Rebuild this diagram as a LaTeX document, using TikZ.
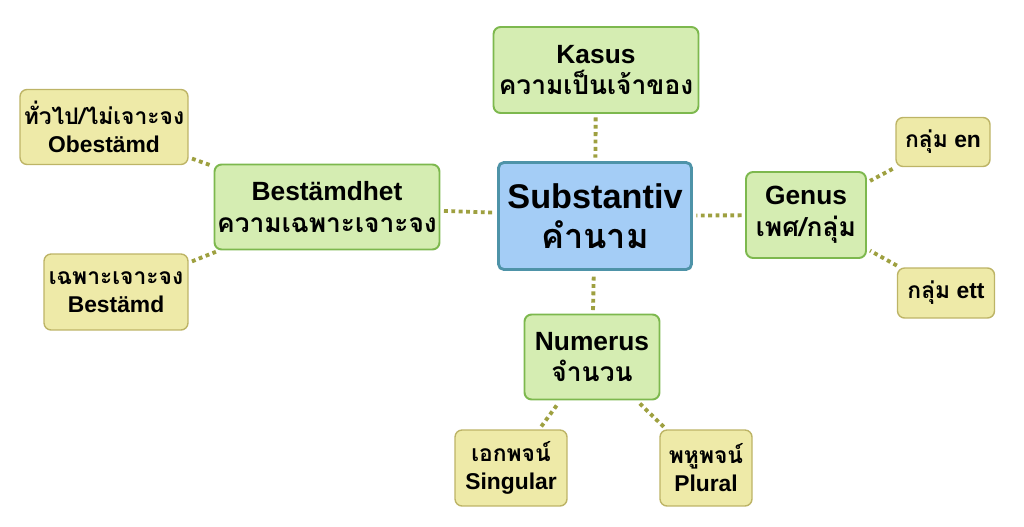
\documentclass[tikz,border=0pt]{standalone}
\usepackage{fontspec}
\setmainfont{Liberation Sans}
\newfontfamily\thai[Script=Thai]{Loma}
\definecolor{hubfill}{HTML}{A4CDF6}
\definecolor{hubline}{HTML}{4E93A8}
\definecolor{midfill}{HTML}{D5EDB2}
\definecolor{midline}{HTML}{7DB84E}
\definecolor{leaffill}{HTML}{EEEAA8}
\definecolor{leafline}{HTML}{BDB466}
\definecolor{linkcol}{HTML}{9EA040}
\tikzset{
  hub/.style={draw=hubline, fill=hubfill, line width=1.6pt, rounded corners=3pt,
    align=center, font=\bfseries\fontsize{19.5}{23}\selectfont, inner sep=0pt},
  mid/.style={draw=midline, fill=midfill, line width=1.1pt, rounded corners=4pt,
    align=center, font=\bfseries\fontsize{15}{18}\selectfont, inner sep=0pt},
  leaf/.style={draw=leafline, fill=leaffill, line width=0.8pt, rounded corners=4pt,
    align=center, font=\bfseries\fontsize{13}{16}\selectfont, inner sep=0pt},
  link/.style={draw=linkcol, line width=2.2pt, dotted, shorten <=2pt, shorten >=2pt}
}
\begin{document}
\begin{tikzpicture}[x=0.02cm,y=-0.02cm]
\useasboundingbox (0,0) rectangle (1024,527);
% centre and branches
\node[hub, minimum width=3.86cm, minimum height=2.14cm] (noun) at (595,216) {Substantiv\\{\thai คำนาม}};
\node[mid, minimum width=4.1cm, minimum height=1.72cm] (kasus) at (596,70) {Kasus\\{\thai ความเป็นเจ้าของ}};
\node[mid, minimum width=4.5cm, minimum height=1.7cm] (best) at (327,207) {Bestämdhet\\{\thai ความเฉพาะเจาะจง}};
\node[mid, minimum width=2.4cm, minimum height=1.72cm] (genus) at (806,215) {Genus\\{\thai เพศ/กลุ่ม}};
\node[mid, minimum width=2.7cm, minimum height=1.7cm] (num) at (592,357) {Numerus\\{\thai จำนวน}};
% leaves
\node[leaf, minimum width=3.36cm, minimum height=1.5cm] (obest) at (104,127) {{\thai ทั่วไป/ไม่เจาะจง}\\Obestämd};
\node[leaf, minimum width=2.88cm, minimum height=1.52cm] (bestd) at (116,292) {{\thai เฉพาะเจาะจง}\\Bestämd};
\node[leaf, minimum width=1.88cm, minimum height=0.98cm] (en) at (943,142) {{\thai กลุ่ม} en};
\node[leaf, minimum width=1.94cm, minimum height=1.0cm] (ett) at (946,293) {{\thai กลุ่ม} ett};
\node[leaf, minimum width=2.24cm, minimum height=1.52cm] (sing) at (511,468) {{\thai เอกพจน์}\\Singular};
\node[leaf, minimum width=1.84cm, minimum height=1.52cm] (plur) at (706,468) {{\thai พหูพจน์}\\Plural};
% links
\draw[link] (kasus) -- (noun);
\draw[link] (best) -- (noun);
\draw[link] (genus) -- (noun);
\draw[link] (num) -- (noun);
\draw[link] (obest) -- (best);
\draw[link] (bestd) -- (best);
\draw[link] (en) -- (genus);
\draw[link] (ett) -- (genus);
\draw[link] (sing) -- (num);
\draw[link] (plur) -- (num);
\end{tikzpicture}
\end{document}
